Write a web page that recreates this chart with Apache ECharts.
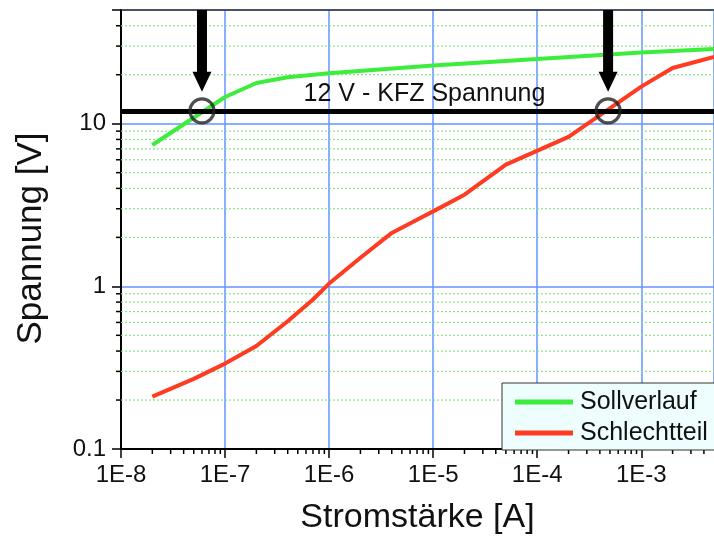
<!DOCTYPE html>
<html>
<head>
<meta charset="utf-8">
<script src="https://cdn.jsdelivr.net/npm/echarts@6/dist/echarts.min.js"></script>
<style>
  html, body { margin: 0; padding: 0; background: #fff; }
  #chart { width: 714px; height: 542px; }
</style>
</head>
<body>
<div id="chart"></div>
<script>
// Current (A) and voltage (V) readings
const sollCurrent = [2e-8, 1e-7, 2e-7, 4e-7, 1e-6, 1e-5, 1e-4, 1e-3, 5e-3];
const sollVoltage = [7.4, 14.6, 17.8, 19.3, 20.4, 22.8, 25.0, 27.4, 28.8];

const badCurrent = [2e-8, 5e-8, 1e-7, 2e-7, 4e-7, 7e-7, 1e-6, 2e-6, 4e-6, 7e-6, 1e-5, 2e-5, 5e-5, 2e-4, 1e-3, 2e-3, 5e-3];
const badVoltage = [0.21, 0.27, 0.335, 0.43, 0.61, 0.83, 1.04, 1.5, 2.13, 2.57, 2.89, 3.66, 5.6, 8.3, 16.9, 22.0, 25.7];

// 12 V vehicle supply and the currents where each curve reaches it
const kfzVoltage = 12;
const crossCurrent = [6e-8, 4.8e-4];

// Axis ranges and labels
const xRange = [1e-8, 5e-3];
const yRange = [0.1, 50];
const xTickValues = [1e-8, 1e-7, 1e-6, 1e-5, 1e-4, 1e-3];
const xTickLabels = ['1E-8', '1E-7', '1E-6', '1E-5', '1E-4', '1E-3'];
const yTickValues = [0.1, 1, 10];
const yTickLabels = ['0.1', '1', '10'];
const minorFactors = [2, 3, 4, 5, 6, 7, 8, 9];

function minorValues(decades, lo, hi) {
  const out = [];
  decades.forEach(d => minorFactors.forEach(f => {
    const v = d * f;
    if (v > lo && v < hi) out.push(v);
  }));
  return out;
}
const xMinor = minorValues(xTickValues, xRange[0], xRange[1]);
const yMinor = minorValues(yTickValues, yRange[0], yRange[1]);

function labelFor(values, labels) {
  return v => {
    const i = values.findIndex(t => Math.abs(Math.log10(t) - Math.log10(v)) < 0.01);
    return i >= 0 ? labels[i] : '';
  };
}

const FONT = 'Liberation Sans, Arial, sans-serif';
const GREEN = '#3ced3c';
const RED = '#ff3b22';
const BLUE = '#6595ff';

const chart = echarts.init(document.getElementById('chart'), null, { renderer: 'canvas' });

chart.setOption({
  animation: false,
  backgroundColor: '#fff',
  textStyle: { fontFamily: FONT },
  grid: { left: 121, right: 0, top: 10, bottom: 93, containLabel: false },
  legend: {
    data: ['Sollverlauf', 'Schlechtteil'],
    orient: 'vertical',
    left: 502,
    top: 383,
    icon: 'rect',
    itemWidth: 58,
    itemHeight: 5,
    itemGap: 5,
    padding: [6, 30, 4, 13],
    backgroundColor: '#eefefe',
    borderColor: '#333',
    borderWidth: 1,
    borderRadius: 0,
    textStyle: { fontSize: 25, color: '#111', fontFamily: FONT, lineHeight: 26, padding: [0, 0, 0, 2] }
  },
  xAxis: [{
    type: 'log',
    logBase: 10,
    min: xRange[0],
    max: xRange[1],
    splitNumber: 6,
    name: 'Stromstärke [A]',
    nameLocation: 'middle',
    nameGap: 52,
    nameTextStyle: { fontSize: 34, color: '#111', fontFamily: FONT },
    axisLine: { show: true, onZero: false, lineStyle: { color: '#000', width: 2 } },
    axisTick: { show: true, inside: false, length: 9, lineStyle: { color: '#000', width: 1.5 } },
    axisLabel: { fontSize: 24, color: '#111', margin: 14, formatter: labelFor(xTickValues, xTickLabels), showMaxLabel: false },
    splitLine: { show: true, lineStyle: { color: BLUE, width: 1.5 } },
    minorTick: { show: false },
    minorSplitLine: { show: false }
  }, {
    type: 'log',
    logBase: 10,
    position: 'top',
    min: xRange[0],
    max: xRange[1],
    axisLine: { show: true, onZero: false, lineStyle: { color: '#333', width: 1.5 } },
    axisTick: { show: false },
    axisLabel: { show: false },
    splitLine: { show: false }
  }],
  yAxis: {
    type: 'log',
    logBase: 10,
    min: yRange[0],
    max: yRange[1],
    splitNumber: 3,
    name: 'Spannung [V]',
    nameLocation: 'middle',
    nameGap: 72,
    nameTextStyle: { fontSize: 35, color: '#111', fontFamily: FONT, padding: [0, 18, 0, 0] },
    axisLine: { show: true, onZero: false, lineStyle: { color: '#000', width: 2 } },
    axisTick: { show: true, inside: false, length: 9, lineStyle: { color: '#000', width: 1.5 } },
    axisLabel: { fontSize: 24, color: '#111', margin: 15, formatter: labelFor(yTickValues, yTickLabels) },
    splitLine: { show: true, lineStyle: { color: BLUE, width: 1.5 } }
  },
  series: [
    {
      // dotted minor grid lines and minor ticks on the voltage axis
      type: 'custom',
      name: 'yMinor',
      z: 1,
      silent: true,
      data: yMinor.map(v => [xRange[0], v]),
      renderItem: (params, api) => {
        const cs = params.coordSys;
        const y = api.coord([xRange[0], api.value(1)])[1];
        return {
          type: 'group',
          children: [
            { type: 'line', shape: { x1: cs.x, y1: y, x2: cs.x + cs.width, y2: y },
              style: { stroke: '#88e088', lineWidth: 1.2, lineDash: [2, 2] } },
            { type: 'line', shape: { x1: cs.x - 5, y1: y, x2: cs.x, y2: y },
              style: { stroke: '#000', lineWidth: 1.5 } }
          ]
        };
      }
    },
    {
      // minor ticks on the current axis
      type: 'custom',
      name: 'xMinor',
      z: 1,
      silent: true,
      data: xMinor.map(v => [v, yRange[0]]),
      renderItem: (params, api) => {
        const cs = params.coordSys;
        const x = api.coord([api.value(0), yRange[0]])[0];
        const yb = cs.y + cs.height;
        return { type: 'line', shape: { x1: x, y1: yb, x2: x, y2: yb + 5 },
                 style: { stroke: '#000', lineWidth: 1.5 } };
      }
    },
    {
      type: 'line',
      name: '12 V',
      z: 3,
      data: [],
      markLine: {
        silent: true,
        symbol: ['none', 'none'],
        lineStyle: { color: '#000', width: 5, type: 'solid' },
        label: {
          show: true,
          position: 'insideMiddleTop',
          formatter: '12 V - KFZ Spannung',
          fontSize: 25,
          color: '#111',
          fontFamily: FONT,
          distance: 4,
          padding: [0, 0, 0, 14]
        },
        emphasis: { disabled: true },
        data: [{ yAxis: kfzVoltage }]
      }
    },
    {
      type: 'line',
      name: 'Sollverlauf',
      z: 4,
      symbol: 'none',
      color: GREEN,
      lineStyle: { color: GREEN, width: 4 },
      data: sollCurrent.map((c, i) => [c, sollVoltage[i]])
    },
    {
      type: 'line',
      name: 'Schlechtteil',
      z: 4,
      symbol: 'none',
      color: RED,
      lineStyle: { color: RED, width: 4 },
      data: badCurrent.map((c, i) => [c, badVoltage[i]])
    },
    {
      type: 'scatter',
      name: 'Schnittpunkte',
      z: 5,
      symbol: 'circle',
      symbolSize: 24,
      itemStyle: { color: 'rgba(0,0,0,0)', borderColor: '#222', borderWidth: 3.2 },
      silent: true,
      data: crossCurrent.map(c => [c, kfzVoltage])
    },
    {
      // arrows pointing down at the crossing points
      type: 'custom',
      name: 'Pfeile',
      z: 6,
      silent: true,
      data: crossCurrent.map(c => [c, kfzVoltage]),
      renderItem: (params, api) => {
        const cs = params.coordSys;
        const p = api.coord([api.value(0), api.value(1)]);
        const x = p[0];
        const top = cs.y;
        const tip = p[1] - 19;
        const headTop = tip - 20;
        return {
          type: 'polygon',
          shape: { points: [
            [x - 5, top], [x + 5, top], [x + 5, headTop], [x + 9.5, headTop],
            [x, tip], [x - 9.5, headTop], [x - 5, headTop]
          ] },
          style: { fill: '#000' }
        };
      }
    }
  ]
});
</script>
</body>
</html>
